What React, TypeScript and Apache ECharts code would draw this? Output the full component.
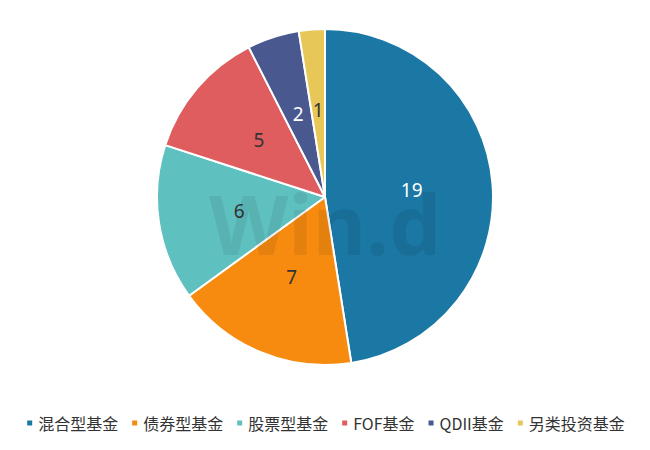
import { useEffect, useRef } from "react"
import * as echarts from "echarts"

const categories = ["混合型基金", "债券型基金", "股票型基金", "FOF基金", "QDII基金", "另类投资基金"]
const values = [19, 7, 6, 5, 2, 1]
const colors = ["#1b77a3", "#f68b10", "#5fc0c0", "#e05d5f", "#4a5890", "#e6c757"]
const labelColors = ["#ffffff", "#333333", "#333333", "#333333", "#ffffff", "#333333"]

export default function App() {
  const chartRef = useRef<HTMLDivElement>(null)

  useEffect(() => {
    if (!chartRef.current) return
    const chart = echarts.init(chartRef.current, undefined, { renderer: "svg" })

    const option = {
      animation: false,
      color: colors,
      legend: {
        bottom: 14,
        left: "center",
        icon: "rect",
        itemWidth: 7,
        itemHeight: 7,
        itemGap: 12,
        textStyle: { fontSize: 16, color: "#333", fontFamily: "Noto Sans CJK SC" },
        data: categories,
      },
      graphic: [
        {
          type: "text",
          left: "center",
          top: 182,
          z: 100,
          silent: true,
          style: {
            text: "Win.d",
            fontSize: 82,
            fontWeight: "bold",
            fontFamily: "Noto Sans",
            fill: "rgba(0,0,0,0.07)",
          },
        },
      ],
      series: [
        {
          type: "pie",
          radius: [0, 168],
          center: [325, 197],
          startAngle: 90,
          clockwise: true,
          itemStyle: { borderColor: "#fff", borderWidth: 2 },
          label: {
            show: true,
            position: "inside",
            formatter: "{c}",
            fontSize: 19,
            fontFamily: "Noto Sans",
          },
          labelLine: { show: false },
          data: categories.map((name, i) => ({
            name,
            value: values[i],
            label: { color: labelColors[i] },
          })),
        },
      ],
    }

    chart.setOption(option)
    return () => chart.dispose()
  }, [])

  return (
    <div
      ref={chartRef}
      style={{ position: "absolute", left: 0, top: 0, width: 650, height: 450, background: "#fff" }}
    />
  )
}
